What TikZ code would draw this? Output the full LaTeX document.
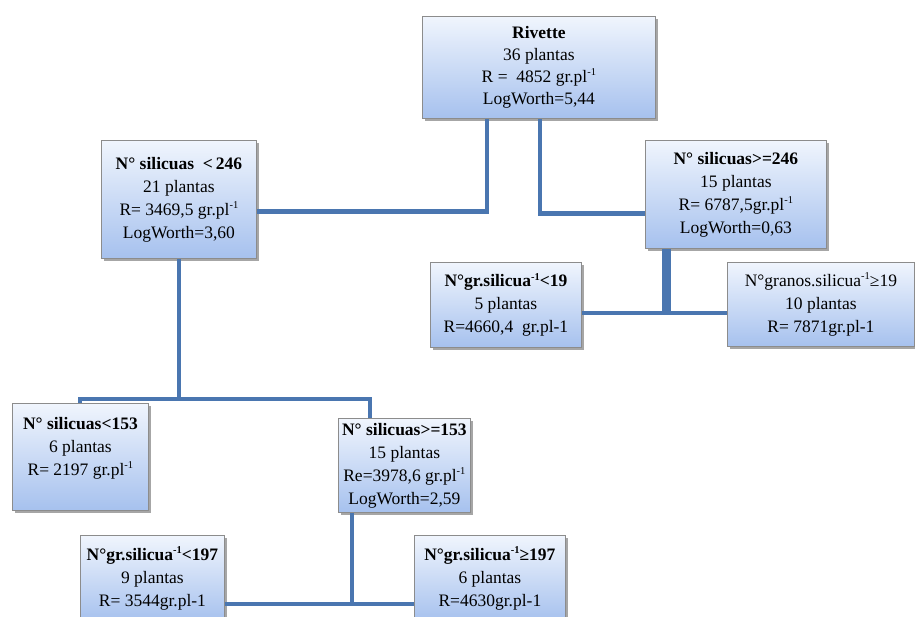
\documentclass[tikz,border=0pt]{standalone}
\usepackage{fontspec}
\setmainfont{Liberation Serif}
\usetikzlibrary{shadows,calc}
\definecolor{linkblue}{RGB}{74,118,176}
\definecolor{boxtop}{RGB}{240,245,253}
\definecolor{boxbot}{RGB}{166,193,238}
\definecolor{boxedge}{RGB}{140,140,140}
\tikzset{
  tbox/.style={draw=boxedge, line width=0.8pt, top color=boxtop, bottom color=boxbot,
    drop shadow={shadow xshift=2.5pt, shadow yshift=-2.5pt, fill=black, opacity=0.35},
    anchor=north west, align=center, inner sep=0pt,
    font=\fontsize{17.5}{23}\selectfont},
  link/.style={draw=linkblue, line width=4.5pt},
}
\newcommand{\mysup}[1]{\raisebox{0.38em}{\fontsize{10.5}{10.5}\selectfont #1}}
\begin{document}
\begin{tikzpicture}[x=1pt,y=-1pt]
\useasboundingbox (0,0) rectangle (915,616);
% nodes
\node[tbox, minimum width=233pt, minimum height=102pt, font=\fontsize{17.5}{21.8}\selectfont] (root) at (422,16)
  {\textbf{Rivette}\\36 plantas\\R =\ \ 4852\ gr.pl\mysup{-1}\\LogWorth=5,44};
\node[tbox, minimum width=155pt, minimum height=118pt] (L) at (101,140)
  {\textbf{N° silicuas\ \ <\,246}\\21 plantas\\R= 3469,5\ gr.pl\mysup{-1}\\LogWorth=3,60};
\node[tbox, minimum width=181pt, minimum height=108pt] (R) at (645,140)
  {\textbf{N° silicuas>=246}\\15 plantas\\R= 6787,5gr.pl\mysup{-1}\\LogWorth=0,63};
\node[tbox, minimum width=151pt, minimum height=85pt] (RL) at (430,262)
  {\textbf{N°gr.silicua\mysup{-1}<19}\\5 plantas\\R=4660,4\ \ gr.pl-1};
\node[tbox, minimum width=187pt, minimum height=84pt] (RR) at (727,262)
  {N°granos.silicua\mysup{-1}≥19\\10 plantas\\R= 7871gr.pl-1};
\node[tbox, minimum width=136pt, minimum height=107pt] (LL) at (12,403)
  {\textbf{N° silicuas<153}\\6 plantas\\R= 2197 gr.pl\mysup{-1}\\[-2pt]};
\node[tbox, minimum width=132pt, minimum height=94pt] (LR) at (338,418)
  {\textbf{N° silicuas>=153}\\15 plantas\\Re=3978,6\ gr.pl\mysup{-1}\\LogWorth=2,59};
\node[tbox, minimum width=144pt, minimum height=86pt] (LRL) at (80,535)
  {\textbf{N°gr.silicua\mysup{-1}<197}\\9 plantas\\R= 3544gr.pl-1};
\node[tbox, minimum width=151pt, minimum height=86pt] (LRR) at (414,535)
  {\textbf{N°gr.silicua\mysup{-1}≥197}\\6 plantas\\R=4630gr.pl-1};
% connectors
\draw[link] ($(root.south west)+(65,0)$) |- ($(L.east)+(0,12)$);
\draw[link] ($(root.south west)+(118,0)$) |- ($(R.west)+(0,19)$);
\draw[link, line width=9pt] ($(R.south west)+(21,0)$) -- ++(0,66);
\draw[link, line width=4pt] ($(RL.east)+(0,8)$) -- ($(RR.west |- RL.east)+(0,8)$);
\draw[link] (L.south) -- ($(L.south |- LL.north)+(0,-4)$);
\draw[link, line width=4pt] (LL.north) -- ++(0,-4) -| ($(LR.north west)+(32,0)$);
\draw[link] ($(LR.south west)+(14,0)$) -- ++(0,92);
\draw[link, line width=4pt] ($(LRL.north east)+(0,69)$) -- ($(LRR.north west)+(0,69)$);
\end{tikzpicture}
\end{document}
